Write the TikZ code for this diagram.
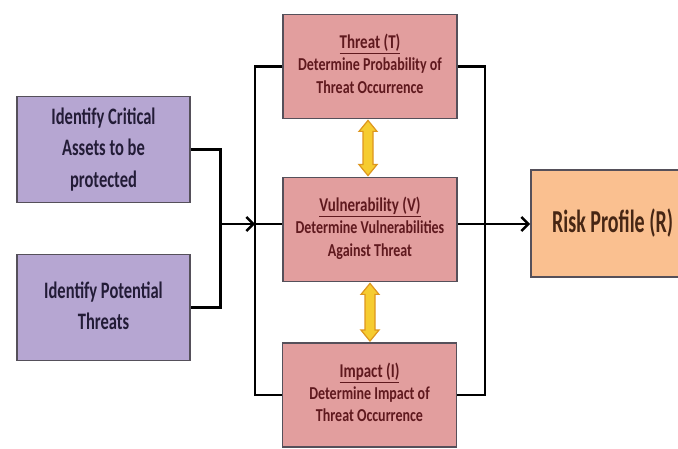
\documentclass[tikz,border=0pt]{standalone}
\usepackage{fontspec}
\setmainfont{Carlito}
\usepackage{graphicx}
\usetikzlibrary{arrows.meta,calc}
\definecolor{purplebox}{RGB}{182,166,210}
\definecolor{pinkbox}{RGB}{226,158,158}
\definecolor{orangebox}{RGB}{250,192,144}
\definecolor{boxline}{RGB}{85,80,90}
\definecolor{purpletext}{RGB}{35,28,55}
\definecolor{pinktext}{RGB}{95,25,30}
\definecolor{risktext}{RGB}{70,38,20}
\definecolor{yfill}{RGB}{246,204,48}
\definecolor{yline}{RGB}{222,150,30}
\newcommand{\stretchtext}[2]{\scalebox{1}[#1]{\begin{tabular}{@{}c@{}}#2\end{tabular}}}
\tikzset{
  basebox/.style={draw=boxline, line width=1.8pt, rectangle, inner sep=0pt, align=center},
  leftbox/.style={basebox, fill=purplebox, text=purpletext, minimum width=173pt, minimum height=106pt,
    font=\bfseries\fontsize{16.5pt}{22pt}\selectfont},
  midbox/.style={basebox, fill=pinkbox, text=pinktext, minimum width=174pt, minimum height=104pt,
    font=\bfseries\fontsize{14pt}{17pt}\selectfont},
  riskbox/.style={basebox, fill=orangebox, text=risktext, minimum width=178pt, minimum height=107pt,
    font=\bfseries\fontsize{20pt}{24pt}\selectfont},
  wire/.style={draw=black, line width=2.4pt},
  thickwire/.style={draw=black, line width=3pt},
  arrowwire/.style={wire, -{Straight Barb[length=7pt,width=14pt,line width=2.4pt]}},
  yarrow/.style={fill=yfill, draw=yline, line width=1.2pt, line join=miter}
}
\begin{document}
\begin{tikzpicture}[x=1pt,y=-1pt]
\useasboundingbox (0,0) rectangle (678,449);
\fill[white] (0,0) rectangle (678,449);

\node[leftbox] (A1) at (103.5,149.5) {\stretchtext{1.43}{Identify Critical\\Assets to be\\protected}};
\node[leftbox] (A2) at (103.5,307.5) {\stretchtext{1.43}{Identify Potential\\Threats}};

\node[midbox] (T) at (370,66.5) {\stretchtext{1.3}{\fontsize{15pt}{17pt}\selectfont\underline{Threat (T)}\\Determine Probability of\\Threat Occurrence}};
\node[midbox] (V) at (370,229.5) {\stretchtext{1.3}{\fontsize{15pt}{17pt}\selectfont\underline{Vulnerability (V)}\\Determine Vulnerabilities\\Against Threat}};
\node[midbox] (I) at (369.5,395) {\stretchtext{1.3}{\fontsize{15pt}{17pt}\selectfont\underline{Impact (I)}\\Determine Impact of\\Threat Occurrence}};

\node[riskbox, anchor=west] (R) at (530,223.5) {};
\node[text=risktext, font=\bfseries\fontsize{20pt}{24pt}\selectfont, anchor=west, inner sep=0pt] (Rt) at (552,223.5) {\scalebox{1}[1.6]{Risk Profile (R)}};

% left bracket
\coordinate (m) at (220,224);
\coordinate (vl) at (255,224);
\draw[thickwire] (A1.east) -- ++(30,0) |- (A2.east);
\draw[arrowwire] (m) -- (vl);
\draw[wire] (vl) -- (vl -| V.west);
\draw[wire] (T.west) -- (T.west -| vl) |- (I.west);

% right bracket
\coordinate (vr) at (485,224);
\draw[wire] (T.east) -- (T.east -| vr) |- (I.east);
\draw[arrowwire] (V.east |- vr) -- (R.west |- vr);

% yellow double arrows
\path let \p1=(T.south), \p2=(V.north) in
  [yarrow] ({\x1-2pt},{\y1-1pt}) -- ({\x1+7pt},{\y1-12pt}) -- ({\x1+3pt},{\y1-12pt}) -- ({\x1+3pt},{\y2+12pt})
  -- ({\x1+7pt},{\y2+12pt}) -- ({\x1-2pt},{\y2+1pt}) -- ({\x1-11pt},{\y2+12pt}) -- ({\x1-7pt},{\y2+12pt})
  -- ({\x1-7pt},{\y1-12pt}) -- ({\x1-11pt},{\y1-12pt}) -- cycle;
\path let \p1=(V.south), \p2=(I.north) in
  [yarrow] ({\x1},{\y1-1pt}) -- ({\x1+9pt},{\y1-12pt}) -- ({\x1+5pt},{\y1-12pt}) -- ({\x1+5pt},{\y2+12pt})
  -- ({\x1+9pt},{\y2+12pt}) -- ({\x1},{\y2+1pt}) -- ({\x1-9pt},{\y2+12pt}) -- ({\x1-5pt},{\y2+12pt})
  -- ({\x1-5pt},{\y1-12pt}) -- ({\x1-9pt},{\y1-12pt}) -- cycle;
\end{tikzpicture}
\end{document}
